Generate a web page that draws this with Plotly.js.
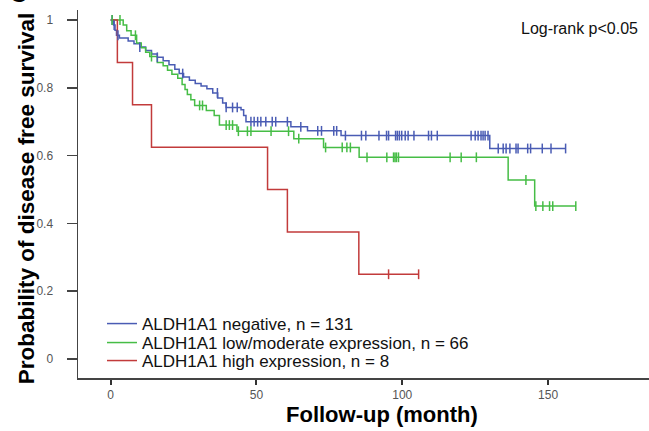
<!DOCTYPE html>
<html>
<head>
<meta charset="utf-8">
<script src="https://cdn.plot.ly/plotly-3.0.1.min.js"></script>
<style>html,body{margin:0;padding:0;background:#fff;}#chart{width:649px;height:431px;}</style>
</head>
<body>
<div id="chart"></div>
<script>
// ALDH1A1 negative, n = 131
const negTime = [0, 1, 1.5, 2, 3, 6, 8, 10, 12, 14, 16, 18, 20, 22, 23.5, 25, 27, 29, 31, 33, 35, 36.7, 38.4, 39.6, 44.7, 45.6, 46.4, 61.8, 67.5, 79, 130, 156];
const negSurv = [1, 0.985, 0.97, 0.955, 0.947, 0.938, 0.93, 0.92, 0.91, 0.9, 0.89, 0.88, 0.868, 0.855, 0.842, 0.832, 0.822, 0.813, 0.805, 0.797, 0.785, 0.77, 0.755, 0.742, 0.735, 0.718, 0.70, 0.685, 0.673, 0.659, 0.621, 0.621];
const negCensor = [0.5, 1.2, 2.5, 10, 16, 24.7, 36.6, 39.6, 41.8, 43.4, 48.1, 49.2, 50.4, 51.5, 53.2, 55.4, 56.6, 60.6, 65.2, 71, 72.3, 76.5, 77.5, 80.5, 86, 87.5, 92, 94.6, 95.3, 97.7, 98.3, 99, 99.8, 101, 102, 104, 109, 110, 112, 123.6, 125, 126, 127, 127.7, 128.4, 129.4, 132.9, 134.6, 135.6, 136.9, 139, 139.7, 143, 144, 148, 151, 156];

// ALDH1A1 low/moderate expression, n = 66
const lowTime = [0, 4.3, 5.5, 7, 8.9, 10.5, 12, 13.4, 16, 18, 19.5, 21, 23, 24.5, 25.5, 26.3, 27.5, 28.8, 32.8, 35.5, 37.3, 43.3, 62.8, 73, 85.2, 136.3, 145.4, 159.5];
const lowSurv = [1, 0.985, 0.968, 0.955, 0.932, 0.918, 0.905, 0.892, 0.875, 0.865, 0.852, 0.84, 0.828, 0.81, 0.795, 0.78, 0.765, 0.748, 0.733, 0.718, 0.69, 0.672, 0.65, 0.624, 0.595, 0.528, 0.451, 0.451];
const lowCensor = [0.5, 3.2, 8.5, 14, 30.5, 31.5, 39.6, 40.7, 41.8, 43.8, 46.9, 48.1, 55, 61, 64.5, 73.7, 79.4, 81, 82.2, 87.9, 94.7, 97, 97.5, 98, 98.7, 116.4, 120.2, 125.4, 142.4, 145.8, 148.2, 150.5, 151.6, 159.5];

// ALDH1A1 high expression, n = 8
const highTime = [0, 2.3, 7.5, 14, 53.8, 60.6, 85.1, 105.6];
const highSurv = [1, 0.875, 0.75, 0.625, 0.5, 0.375, 0.25, 0.25];
const highCensor = [95.3, 105.6];

const seriesNames = ['ALDH1A1 negative, n = 131', 'ALDH1A1 low/moderate expression, n = 66', 'ALDH1A1 high expression, n = 8'];
const seriesColors = ['#4a5cb4', '#46bd46', '#c23b3b'];
const legendIds = ['legend', 'legend2', 'legend3'];

function stepAt(times, surv, t) {
  let v = surv[0];
  for (let i = 0; i < times.length; i++) { if (times[i] <= t) v = surv[i]; }
  return v;
}

const sets = [
  [negTime, negSurv, negCensor],
  [lowTime, lowSurv, lowCensor],
  [highTime, highSurv, highCensor]
];

const traces = [];
sets.forEach((s, i) => {
  traces.push({
    x: s[0], y: s[1], type: 'scatter', mode: 'lines',
    line: {shape: 'hv', color: seriesColors[i], width: 1.5},
    name: seriesNames[i], showlegend: true, legend: legendIds[i], hoverinfo: 'skip'
  });
});
sets.forEach((s, i) => {
  traces.push({
    x: s[2], y: s[2].map(t => stepAt(s[0], s[1], t)), type: 'scatter', mode: 'markers',
    marker: {symbol: 'line-ns-open', size: 7, color: seriesColors[i], line: {color: seriesColors[i], width: 1.5}},
    showlegend: false, hoverinfo: 'skip'
  });
});

function legendAt(y) {
  return {
    x: 0.042, y: y, xanchor: 'left', yanchor: 'middle',
    font: {size: 17, color: '#111'}, bgcolor: 'rgba(255,255,255,0)',
    itemwidth: 30
  };
}

const layout = {
  width: 649, height: 431,
  margin: {l: 78, r: 0, t: 10, b: 53},
  paper_bgcolor: '#ffffff', plot_bgcolor: '#ffffff',
  font: {family: 'Liberation Sans, Arial, sans-serif', color: '#000'},
  showlegend: true,
  legend: legendAt(0.1467),
  legend2: legendAt(0.0951),
  legend3: legendAt(0.0462),
  xaxis: {
    range: [-11.2, 184.6], dtick: 50, tick0: 0,
    showgrid: false, zeroline: false,
    showline: true, linecolor: '#444', linewidth: 1.5,
    ticks: 'outside', ticklen: 5, tickwidth: 2, tickcolor: '#333',
    tickfont: {size: 12, color: '#555'}
  },
  yaxis: {
    range: [-0.056, 1.0295], dtick: 0.2, tick0: 0,
    showgrid: false, zeroline: false,
    showline: true, linecolor: '#444', linewidth: 1.5,
    ticks: 'outside', ticklen: 10, tickwidth: 1.5, tickcolor: '#444',
    ticklabelstandoff: 11,
    tickfont: {size: 12, color: '#555'}
  },
  annotations: [
    {text: '<b>Probability of disease free survival</b>', xref: 'paper', yref: 'paper', x: -0.091, y: 0.486, xanchor: 'center', yanchor: 'middle', textangle: -90, showarrow: false, font: {size: 22.5, color: '#000'}},
    {text: '<b>Follow-up (month)</b>', xref: 'paper', yref: 'paper', x: 0.532, y: -0.098, xanchor: 'center', yanchor: 'middle', showarrow: false, font: {size: 22, color: '#000'}},
    {text: 'Log-rank p<0.05', xref: 'paper', yref: 'paper', x: 0.985, y: 0.95, xanchor: 'right', yanchor: 'middle', showarrow: false, font: {size: 16, color: '#111'}},
    {text: '<b>C</b>', xref: 'paper', yref: 'paper', x: -0.104, y: 1.045, xanchor: 'center', yanchor: 'middle', showarrow: false, font: {size: 26, color: '#000'}}
  ]
};

Plotly.newPlot('chart', traces, layout, {displayModeBar: false, staticPlot: true});
</script>
</body>
</html>
